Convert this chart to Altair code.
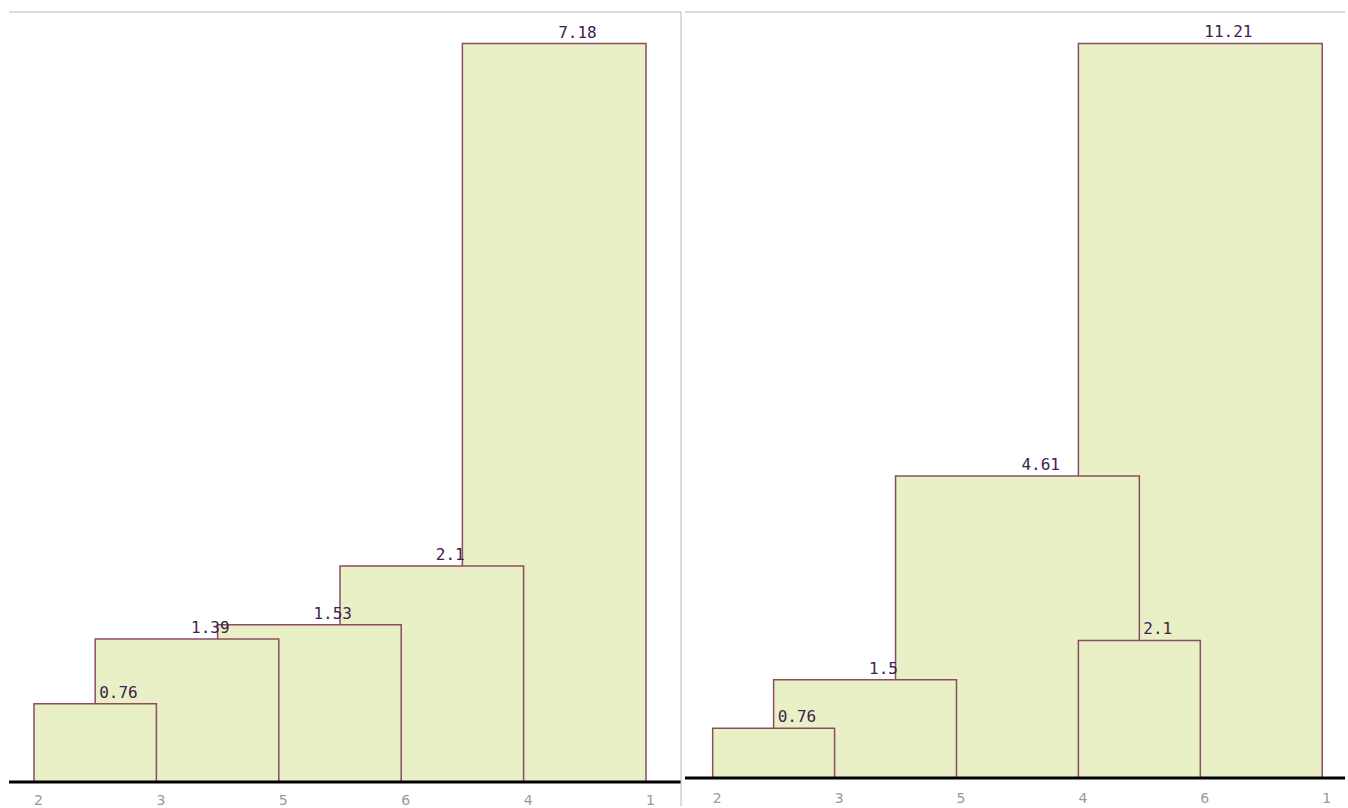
import altair as alt
import pandas as pd

# ---- data -------------------------------------------------------------
left_leaves = ["2", "3", "5", "6", "4", "1"]
left_heights = [7.18, 2.1, 1.53, 1.39, 0.76]
left_labels = ["7.18", "2.1", "1.53", "1.39", "0.76"]
left_x0 = [3.5, 2.5, 1.5, 0.5, 0.0]
left_x1 = [5.0, 4.0, 3.0, 2.0, 1.0]

right_leaves = ["2", "3", "5", "4", "6", "1"]
right_heights = [11.21, 4.61, 2.1, 1.5, 0.76]
right_labels = ["11.21", "4.61", "2.1", "1.5", "0.76"]
right_x0 = [3.0, 1.5, 3.0, 0.5, 0.0]
right_x1 = [5.0, 3.5, 4.0, 2.0, 1.0]

FILL = "#eaf0c6"
STROKE = "#8a4d62"
TEXT = "#3e2150"
GREY = "#b8b8b8"


def panel(leaves, heights, labels, x0, x1, xdom, ymax, w, h, label_pad, border_right):
    df = pd.DataFrame({"x0": x0, "x1": x1, "h": heights, "label": labels})
    df["xm"] = (df["x0"] + df["x1"]) / 2
    one = pd.DataFrame({"v": [0]})
    xs = alt.Scale(domain=xdom, nice=False, zero=False)
    ys = alt.Scale(domain=[0, ymax], nice=False, zero=True)
    label_expr = "[" + ",".join(f"'{l}'" for l in leaves) + "][datum.value]"
    rects = alt.Chart(df).mark_rect(fill=FILL, stroke=STROKE, strokeWidth=1.5).encode(
        x=alt.X("x0:Q", scale=xs, axis=alt.Axis(
            values=list(range(len(leaves))), labelExpr=label_expr, title=None,
            domain=False, ticks=False, grid=False, labelPadding=label_pad,
            labelFont="DejaVu Sans", labelFontSize=14, labelColor="#9a9a9a",
            labelAlign="center", labelOffset=4)),
        x2="x1:Q",
        y=alt.Y("h:Q", scale=ys, axis=None),
        y2=alt.datum(0),
    )
    texts = alt.Chart(df).mark_text(
        align="left", baseline="alphabetic", dx=4, dy=-6,
        font="DejaVu Sans Mono", fontSize=16, color=TEXT,
    ).encode(
        x=alt.X("xm:Q", scale=xs),
        y=alt.Y("h:Q", scale=ys),
        text="label:N",
    )
    baseline = alt.Chart(one).mark_rule(color="black", strokeWidth=3).encode(
        y=alt.Y("v:Q", scale=ys), x=alt.value(0), x2=alt.value(w)
    )
    top = alt.Chart(one).mark_rule(color=GREY, strokeWidth=1).encode(
        x=alt.value(0), x2=alt.value(w), y=alt.value(0)
    )
    layers = [rects, texts, baseline, top]
    if border_right:
        side = alt.Chart(one).mark_rule(color=GREY, strokeWidth=1).encode(
            x=alt.value(w), y=alt.value(0), y2=alt.value(794)
        )
        layers.append(side)
    return alt.layer(*layers).properties(width=w, height=h)


left = panel(left_leaves, left_heights, left_labels, left_x0, left_x1,
             [-0.2042, 5.286], 7.487, 672, 770, 11, True)
right = panel(right_leaves, right_heights, right_labels, right_x0, right_x1,
              [-0.227, 5.187], 11.69, 660, 766, 13, False)

chart = alt.hconcat(left, right, spacing=0).properties(
    padding={"left": 7, "top": 11, "right": 0, "bottom": 0},
    background="white",
).configure_view(stroke=None)

chart.save("out.html", embed_options={"renderer": "svg", "actions": False})
